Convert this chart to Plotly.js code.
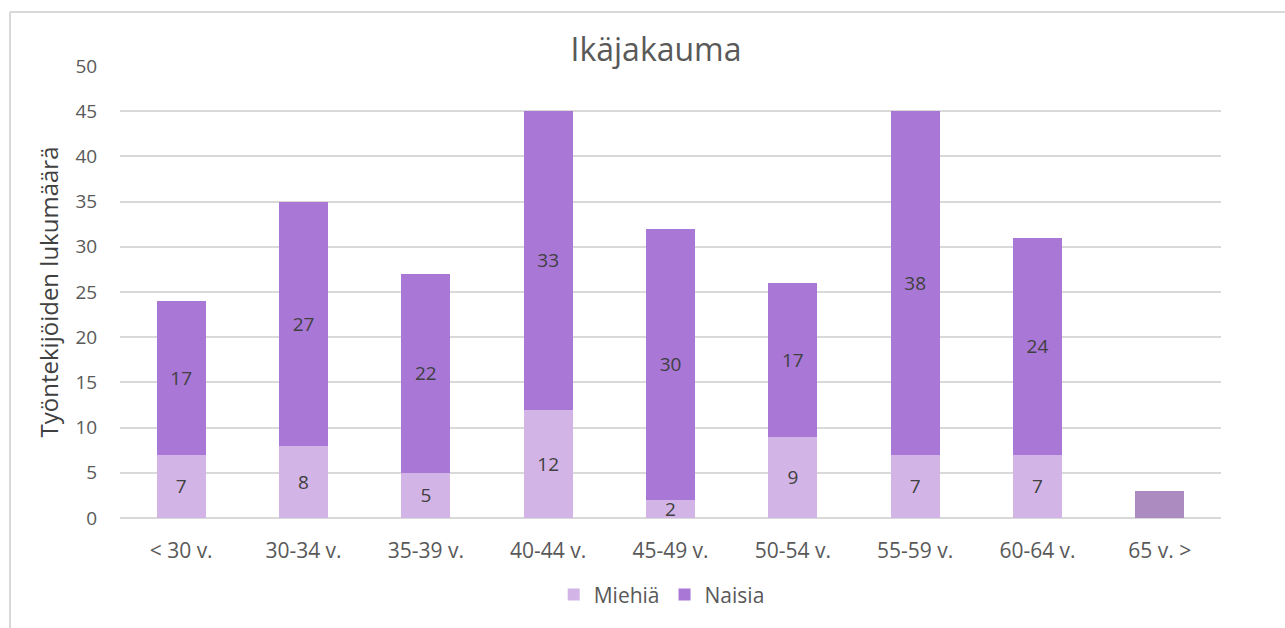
<!DOCTYPE html>
<html><head><meta charset="utf-8">
<script src="https://cdn.plot.ly/plotly-3.0.1.min.js"></script>
<style>html,body{margin:0;padding:0;background:#fff}#chart{width:1285px;height:628px}</style>
</head><body><div id="chart"></div>
<script>
const categories = ['< 30 v.', '30-34 v.', '35-39 v.', '40-44 v.', '45-49 v.', '50-54 v.', '55-59 v.', '60-64 v.', '65 v. >'];
const miehia = [7, 8, 5, 12, 2, 9, 7, 7, null];
const naisia = [17, 27, 22, 33, 30, 17, 38, 24, null];
const muut = [null, null, null, null, null, null, null, null, 3];
const yTicks = [0, 5, 10, 15, 20, 25, 30, 35, 40, 45, 50];

const font = "'Open Sans', 'Liberation Sans', sans-serif";
const labelFont = {family: font, size: 19, color: '#404040'};

const traces = [
  {type: 'bar', name: 'Miehiä', x: categories, y: miehia, text: miehia.map(v => v == null ? '' : String(v)),
   textposition: 'inside', insidetextanchor: 'middle', constraintext: 'none', textangle: 0, textfont: labelFont,
   marker: {color: '#d2b5e6'}, hoverinfo: 'x+y+name'},
  {type: 'bar', name: 'Naisia', x: categories, y: naisia, text: naisia.map(v => v == null ? '' : String(v)),
   textposition: 'inside', insidetextanchor: 'middle', constraintext: 'none', textangle: 0, textfont: labelFont,
   marker: {color: '#a977d6'}, hoverinfo: 'x+y+name'},
  {type: 'bar', name: 'Muu', x: categories, y: muut, showlegend: false, textposition: 'none',
   marker: {color: '#ac8bc0'}, hoverinfo: 'x+y'}
];

const layout = {
  width: 1285, height: 628,
  margin: {l: 120, r: 64, t: 66, b: 110},
  paper_bgcolor: '#ffffff', plot_bgcolor: '#ffffff',
  barmode: 'stack', bargap: 0.6,
  font: {family: font, color: '#595959'},
  title: {text: 'Ikäjakauma', x: 0.5105, xanchor: 'center', y: 0.921, yanchor: 'middle',
          font: {family: font, size: 32, color: '#595959'}},
  xaxis: {type: 'category', tickfont: {family: font, size: 21, color: '#595959'},
          showgrid: false, showline: false, zeroline: false, ticks: 'outside', ticklen: 14, tickcolor: 'rgba(0,0,0,0)'},
  yaxis: {range: [0, 50], tickvals: yTicks, ticktext: yTicks.map(String),
          tickfont: {family: font, size: 19, color: '#595959'},
          gridcolor: '#d9d9d9', gridwidth: 2, zeroline: true, zerolinecolor: '#d9d9d9', zerolinewidth: 2,
          showline: false, ticks: 'outside', ticklen: 18, tickcolor: 'rgba(0,0,0,0)',
          title: {text: 'Työntekijöiden lukumäärä', standoff: 10, font: {family: font, size: 24, color: '#404040'}}},
  legend: {orientation: 'h', x: 0.492, xanchor: 'center', y: -0.17, yanchor: 'middle',
           font: {family: font, size: 21, color: '#595959'}, traceorder: 'normal', itemwidth: 30},
  shapes: [
    {type: 'line', xref: 'paper', yref: 'paper', x0: -0.0999, x1: 1.06, y0: 1.1195, y1: 1.1195, line: {color: '#d9d9d9', width: 2}},
    {type: 'line', xref: 'paper', yref: 'paper', x0: -0.0999, x1: -0.0999, y0: 1.1195, y1: -0.3, line: {color: '#d9d9d9', width: 2}}
  ]
};

Plotly.newPlot('chart', traces, layout, {displayModeBar: false, staticPlot: true});
</script></body></html>
